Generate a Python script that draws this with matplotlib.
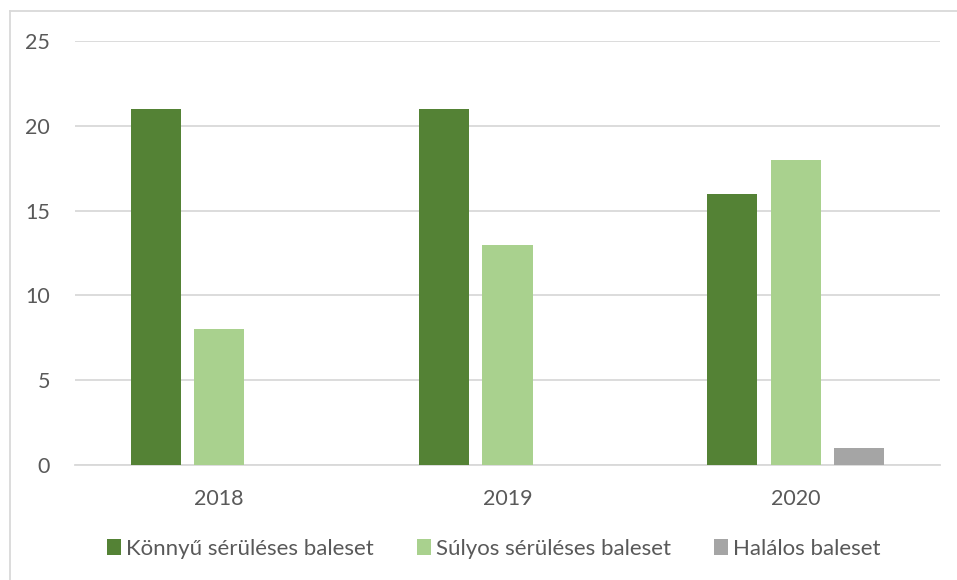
import numpy as np
import matplotlib.pyplot as plt
from matplotlib.lines import Line2D

years = ["2018", "2019", "2020"]
series = ["Könnyű sérüléses baleset", "Súlyos sérüléses baleset", "Halálos baleset"]
konnyu = [21, 21, 16]
sulyos = [8, 13, 18]
halalos = [0, 0, 1]
colors = ["#548235", "#A9D18E", "#A5A5A5"]

plt.rcParams["font.family"] = ["Lato", "DejaVu Sans"]
text_color = "#595959"

fig = plt.figure(figsize=(9.57, 5.8), dpi=100)
ax = fig.add_axes([75 / 957, 1 - 465 / 580, 865 / 957, 424 / 580])

x = np.arange(len(years))
width = 0.174
offsets = [-0.22, 0, 0.22]
for vals, off, c, name in zip([konnyu, sulyos, halalos], offsets, colors, series):
    ax.bar(x + off, vals, width, color=c, label=name, zorder=3)

ax.set_xlim(-0.5, 2.5)
ax.set_ylim(0, 25)
ax.set_yticks(range(0, 26, 5))
ax.set_xticks(x, years)
ax.grid(axis="y", color="#D9D9D9", linewidth=1.3, zorder=0)
for s in ["top", "right", "left"]:
    ax.spines[s].set_visible(False)
ax.spines["bottom"].set_color("#D9D9D9")
ax.spines["bottom"].set_linewidth(1.3)
ax.tick_params(axis="both", length=0, labelsize=15.5, labelcolor=text_color)
ax.tick_params(axis="y", pad=18)
ax.tick_params(axis="x", pad=17)

# frame of the chart area (top and left edges)
fig.add_artist(Line2D([9.5 / 957, 9.5 / 957], [0, 1 - 11 / 580], color="#D9D9D9", lw=1.3))
fig.add_artist(Line2D([9.5 / 957, 1], [1 - 11 / 580, 1 - 11 / 580], color="#D9D9D9", lw=1.3))

ax.legend(loc="center", bbox_to_anchor=(494 / 957, 1 - 549 / 580),
          bbox_transform=fig.transFigure, ncol=3, frameon=False,
          fontsize=16, labelcolor=text_color, handlelength=0.6, handleheight=0.7,
          handletextpad=0.25, columnspacing=1.95)

fig.savefig("out.png", dpi=100)
